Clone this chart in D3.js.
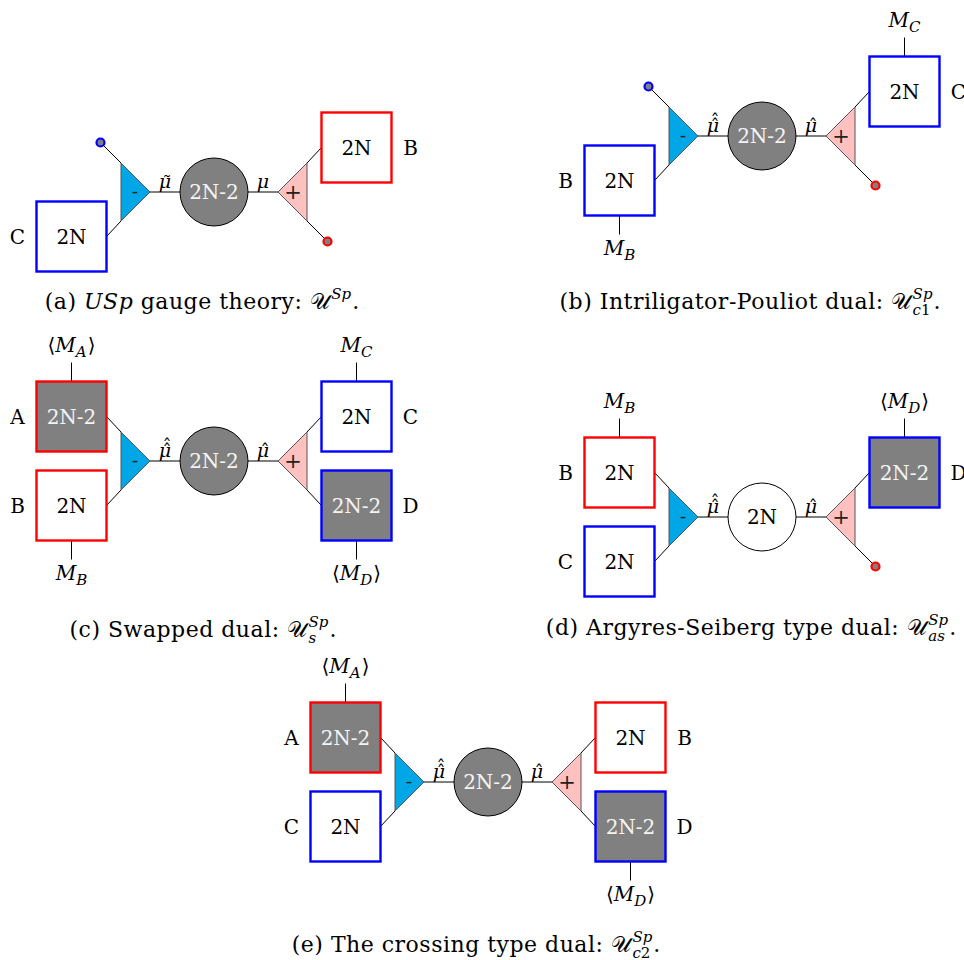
<!DOCTYPE html>
<html lang="en">
<head>
<meta charset="utf-8">
<title>USp quivers</title>
<script src="https://cdn.jsdelivr.net/npm/d3@7"></script>
<style>
  body { margin: 0; background: #fff; }
</style>
</head>
<body></body>
<script>

//********************************************************************//
// Data

var panelKeys = ["a", "b", "c", "d", "e"];

var gaugeRank = ["2N-2", "2N-2", "2N-2", "2N", "2N-2"];

// accents on the mu labels left / right of the gauge node
var leftMuAccent  = ["tilde", "hathat", "hathat", "hathat", "hathat"];
var rightMuAccent = ["plain", "hat", "hat", "hat", "hat"];

// flavour slots: sym "r"/"b" is the symmetry group the node belongs to
var leftTop = [
  {dot: "b"},
  {dot: "b"},
  {name: "A", rank: "2N-2", sym: "r", meson: "vev"},
  {name: "B", rank: "2N", sym: "r", meson: "plain"},
  {name: "A", rank: "2N-2", sym: "r", meson: "vev"}
];
var leftBottom = [
  {name: "C", rank: "2N", sym: "b", meson: null},
  {name: "B", rank: "2N", sym: "b", meson: "plain"},
  {name: "B", rank: "2N", sym: "r", meson: "plain"},
  {name: "C", rank: "2N", sym: "b", meson: null},
  {name: "C", rank: "2N", sym: "b", meson: null}
];
var rightTop = [
  {name: "B", rank: "2N", sym: "r", meson: null},
  {name: "C", rank: "2N", sym: "b", meson: "plain"},
  {name: "C", rank: "2N", sym: "b", meson: "plain"},
  {name: "D", rank: "2N-2", sym: "b", meson: "vev"},
  {name: "B", rank: "2N", sym: "r", meson: null}
];
var rightBottom = [
  {dot: "r"},
  {dot: "r"},
  {name: "D", rank: "2N-2", sym: "b", meson: "vev"},
  {dot: "r"},
  {name: "D", rank: "2N-2", sym: "b", meson: "vev"}
];

var captionText = [
  [["(a) ", "r"], ["USp", "i"], [" gauge theory: ", "r"]],
  [["(b) Intriligator-Pouliot dual: ", "r"]],
  [["(c) Swapped dual: ", "r"]],
  [["(d) Argyres-Seiberg type dual: ", "r"]],
  [["(e) The crossing type dual: ", "r"]]
];
var captionSub = ["", "c1", "s", "as", "c2"];

//********************************************************************//
// Layout

var width = 964, height = 960;

var panelCenter  = [[214, 192], [762, 136], [214, 461], [762, 517], [488, 782]];
var captionPos   = [[202, 309], [750, 309], [203, 637], [751, 635], [476, 952]];

var apexX = 64, baseX = 93, halfBase = 29, gaugeR = 34;
var boxCX = 142.5, boxCY = 44.5, boxS = 70;
var dotX = 113.5, dotY = 49.5;

var symColor = d3.scaleOrdinal().domain(["r", "b"]).range(["#ff0000", "#0000ff"]);
var rankFill = d3.scaleOrdinal().domain(["2N-2", "2N"]).range(["#808080", "#ffffff"]);
var rankText = d3.scaleOrdinal().domain(["2N-2", "2N"]).range(["#f4f4f4", "#000000"]);

var fsNode = 20, fsLabel = 20, fsCap = 22;
var serif = "'DejaVu Serif', 'Liberation Serif', serif";

var canvas = d3.select("body").append("svg")
  .attr("width", width).attr("height", height)
  .attr("font-family", serif);

//********************************************************************//
// Panels

panelKeys.forEach(function(key, i){
  var g = canvas.append("g")
    .attr("transform", "translate(" + panelCenter[i][0] + "," + panelCenter[i][1] + ")");

  var slots = [
    {side: -1, sy: -1, n: leftTop[i]},
    {side: -1, sy:  1, n: leftBottom[i]},
    {side:  1, sy: -1, n: rightTop[i]},
    {side:  1, sy:  1, n: rightBottom[i]}
  ];

  // lines
  [-1, 1].forEach(function(s){
    g.append("line").attr("x1", s*apexX).attr("y1", 0).attr("x2", s*gaugeR).attr("y2", 0)
      .attr("stroke", "#000").attr("stroke-width", 1);
  });
  slots.forEach(function(d){
    var vx = d.side*baseX, vy = d.sy*halfBase;
    var ax, ay;
    if (d.n.dot) { ax = d.side*dotX; ay = d.sy*dotY; }
    else { ax = d.side*(boxCX - boxS/2); ay = d.sy*boxCY; }
    g.append("line").attr("x1", ax).attr("y1", ay).attr("x2", vx).attr("y2", vy)
      .attr("stroke", "#000").attr("stroke-width", 1);
  });

  // triangles
  [[-1, "#00a6e6", "-"], [1, "#ffc0c0", "+"]].forEach(function(t){
    var s = t[0];
    var pts = [[s*apexX, 0], [s*baseX, -halfBase], [s*baseX, halfBase]];
    g.append("path").attr("d", d3.line()(pts) + "Z")
      .attr("fill", t[1]).attr("stroke", "#555").attr("stroke-width", 1);
    g.append("text").attr("x", s*(apexX + 15)).attr("y", s < 0 ? 6 : 7)
      .attr("text-anchor", "middle").attr("font-size", s < 0 ? 19 : 21)
      .attr("fill", "#222").text(t[2]);
  });

  // gauge node
  g.append("circle").attr("r", gaugeR)
    .attr("fill", rankFill(gaugeRank[i])).attr("stroke", "#000").attr("stroke-width", 1);
  g.append("text").attr("y", 7).attr("text-anchor", "middle").attr("font-size", fsNode)
    .attr("fill", rankText(gaugeRank[i])).text(gaugeRank[i]);

  // mu labels
  function muLabel(x, acc){
    g.append("text").attr("x", x).attr("y", -4).attr("text-anchor", "middle")
      .attr("font-size", 19).attr("font-style", "italic").text("\u03bc");
    var ax = x + 2;
    if (acc == "tilde") {
      g.append("text").attr("x", ax).attr("y", -3).attr("text-anchor", "middle")
        .attr("font-size", 18).text("\u02dc");
    }
    if (acc == "hat" || acc == "hathat") {
      g.append("text").attr("x", ax).attr("y", -3).attr("text-anchor", "middle")
        .attr("font-size", 18).text("\u02c6");
    }
    if (acc == "hathat") {
      g.append("text").attr("x", ax).attr("y", -8).attr("text-anchor", "middle")
        .attr("font-size", 18).text("\u02c6");
    }
  }
  muLabel(-49, leftMuAccent[i]);
  muLabel(49, rightMuAccent[i]);

  // flavour nodes
  slots.forEach(function(d){
    var n = d.n;
    if (n.dot) {
      g.append("circle").attr("cx", d.side*dotX).attr("cy", d.sy*dotY).attr("r", 4)
        .attr("fill", "#808080").attr("stroke", symColor(n.dot)).attr("stroke-width", 2.2);
      return;
    }
    var bx = d.side*boxCX, by = d.sy*boxCY;
    if (n.meson) {
      var y0 = by + d.sy*boxS/2, y1 = y0 + d.sy*19;
      g.append("line").attr("x1", bx).attr("x2", bx).attr("y1", y0).attr("y2", y1)
        .attr("stroke", "#000").attr("stroke-width", 1);
      var mt = g.append("text").attr("x", bx).attr("y", d.sy < 0 ? y1 - 11 : y1 + 20)
        .attr("text-anchor", "middle").attr("font-size", fsLabel);
      if (n.meson == "vev") mt.append("tspan").text("\u27e8");
      mt.append("tspan").attr("font-style", "italic").text("M");
      mt.append("tspan").attr("font-style", "italic").attr("font-size", 15).attr("dy", 5).text(n.name);
      if (n.meson == "vev") mt.append("tspan").attr("dy", -5).attr("dx", 1).text("\u27e9");
    }
    g.append("rect").attr("x", bx - boxS/2).attr("y", by - boxS/2)
      .attr("width", boxS).attr("height", boxS)
      .attr("fill", rankFill(n.rank)).attr("stroke", symColor(n.sym)).attr("stroke-width", 2.4);
    g.append("text").attr("x", bx).attr("y", by + 7).attr("text-anchor", "middle")
      .attr("font-size", fsNode).attr("fill", rankText(n.rank)).text(n.rank);
    g.append("text").attr("x", d.side*(boxCX + boxS/2 + 19)).attr("y", by + 7)
      .attr("text-anchor", "middle").attr("font-size", fsLabel).text(n.name);
  });

  // caption
  var cap = canvas.append("g");
  var main = cap.append("text").attr("font-size", fsCap).attr("letter-spacing", 0.5);
  captionText[i].forEach(function(seg){
    main.append("tspan").attr("font-style", seg[1] == "i" ? "italic" : null).text(seg[0]);
  });
  main.append("tspan").text("\ud835\udcb0");
  var L = main.node().getComputedTextLength() + 1;
  var sup = cap.append("text").attr("x", L).attr("y", -10).attr("font-size", 15)
    .attr("font-style", "italic").text("Sp");
  var w = sup.node().getComputedTextLength();
  if (captionSub[i]) {
    var sub = cap.append("text").attr("x", L).attr("y", 6).attr("font-size", 15);
    captionSub[i].split("").forEach(function(ch){
      sub.append("tspan").attr("font-style", /[0-9]/.test(ch) ? null : "italic").text(ch);
    });
    w = Math.max(w, sub.node().getComputedTextLength());
  }
  cap.append("text").attr("x", L + w + 1).attr("font-size", fsCap).text(".");
  var total = L + w + 8;
  cap.attr("transform", "translate(" + (captionPos[i][0] - total/2) + "," + captionPos[i][1] + ")");
});

</script>
</html>
